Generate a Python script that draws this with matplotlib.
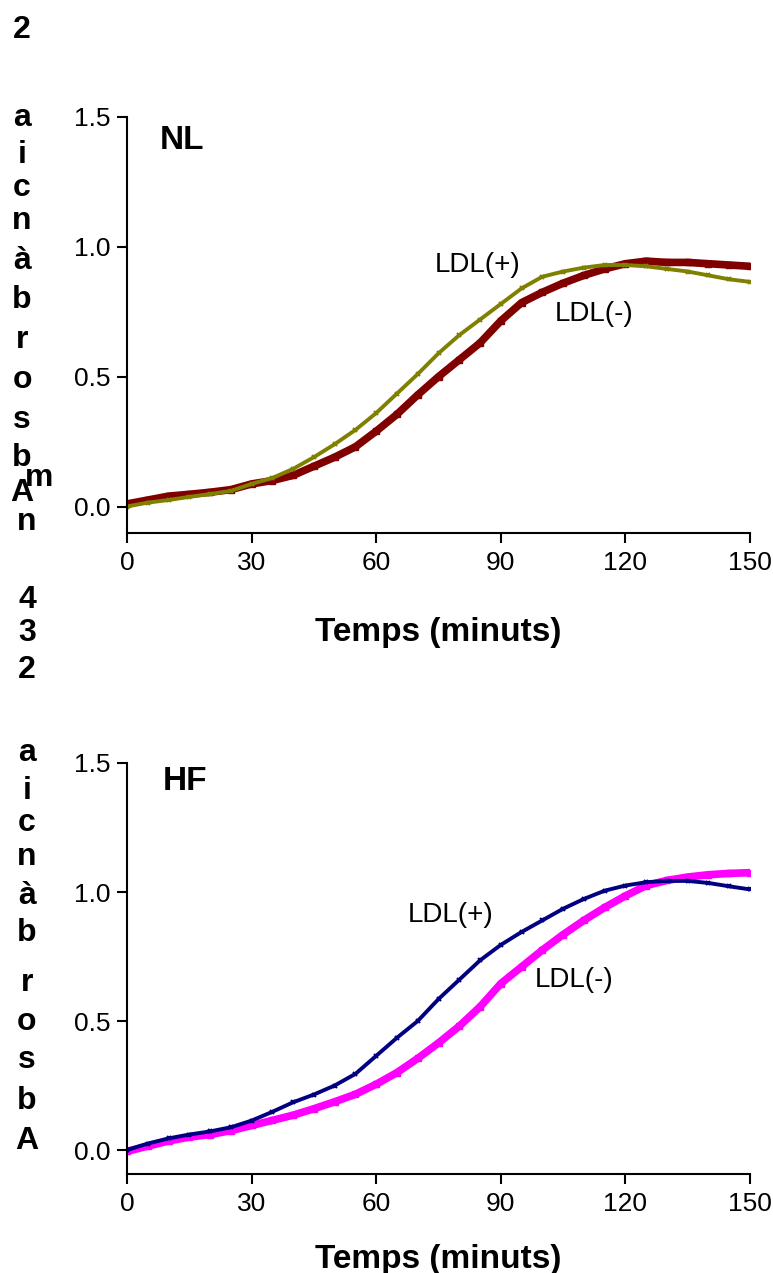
import matplotlib
matplotlib.use('Agg')
import matplotlib.pyplot as plt
import numpy as np

plt.rcParams['font.family'] = ['Liberation Sans', 'DejaVu Sans']

# ---- data, time in minutes ----
minutes = [0, 5, 10, 15, 20, 25, 30, 35, 40, 45, 50, 55, 60, 65, 70, 75,
           80, 85, 90, 95, 100, 105, 110, 115, 120, 125, 130, 135, 140, 145, 150]

nl_ldl_minus = [0.010, 0.025, 0.040, 0.047, 0.055, 0.065, 0.087, 0.100, 0.120, 0.155,
                0.190, 0.230, 0.290, 0.355, 0.430, 0.500, 0.565, 0.630, 0.715, 0.785,
                0.825, 0.860, 0.890, 0.915, 0.935, 0.945, 0.940, 0.940, 0.935, 0.930, 0.925]
nl_ldl_plus = [0.000, 0.015, 0.025, 0.037, 0.048, 0.060, 0.087, 0.110, 0.145, 0.190,
               0.240, 0.295, 0.360, 0.435, 0.510, 0.590, 0.660, 0.720, 0.780, 0.840,
               0.885, 0.905, 0.920, 0.930, 0.930, 0.925, 0.915, 0.905, 0.890, 0.875, 0.865]

hf_ldl_minus = [-0.005, 0.015, 0.035, 0.050, 0.060, 0.075, 0.095, 0.115, 0.135, 0.160,
                0.187, 0.216, 0.255, 0.300, 0.355, 0.415, 0.480, 0.555, 0.645, 0.710,
                0.775, 0.835, 0.890, 0.940, 0.985, 1.025, 1.045, 1.058, 1.067, 1.072, 1.075]
hf_ldl_plus = [0.000, 0.025, 0.045, 0.060, 0.072, 0.088, 0.114, 0.148, 0.185, 0.215,
               0.250, 0.295, 0.365, 0.435, 0.500, 0.585, 0.660, 0.735, 0.795, 0.845,
               0.890, 0.935, 0.973, 1.005, 1.025, 1.038, 1.043, 1.043, 1.035, 1.022, 1.010]

x_ticks = [0, 30, 60, 90, 120, 150]
y_ticks = [0.0, 0.5, 1.0, 1.5]

W, H = 773, 1273


def fig_rect(left, top, right, bottom):
    # pixel box -> figure fraction rect
    return [left / W, 1 - bottom / H, (right - left) / W, (bottom - top) / H]


def format_axes(ax, ylow):
    ax.set_xlim(0, 150)
    ax.set_ylim(ylow, 1.5)
    ax.set_xticks(x_ticks)
    ax.set_yticks(y_ticks)
    ax.set_yticklabels(['%.1f' % v for v in y_ticks])
    for spine in ['top', 'right']:
        ax.spines[spine].set_visible(False)
    for spine in ['left', 'bottom']:
        ax.spines[spine].set_linewidth(1.5)
    ax.spines['left'].set_bounds(ylow, 1.5)
    ax.tick_params(direction='out', length=7.2, width=1.5, labelsize=19, pad=5)
    ax.tick_params(axis='x', pad=6)


def plot_pair(ax, minus, plus, c_minus, c_plus):
    # LDL(-): thick band of square marks, LDL(+): thinner line of small crosses
    ax.plot(minutes, minus, color=c_minus, lw=5.5, marker='s', ms=4,
            solid_capstyle='butt', solid_joinstyle='round')
    ax.plot(minutes, plus, color=c_plus, lw=2.8, marker='x', ms=3.5, mew=1.5,
            solid_joinstyle='round')


fig = plt.figure(figsize=(W / 100, H / 100), dpi=100)

# ---- top panel: NL ----
ax1 = fig.add_axes(fig_rect(127, 117, 750, 533))
plot_pair(ax1, nl_ldl_minus, nl_ldl_plus, '#800000', '#808000')
format_axes(ax1, -0.102)
ax1.text(8, 1.41, 'NL', fontsize=24, fontweight='bold', va='center')
ax1.text(74, 0.93, 'LDL(+)', fontsize=20, va='center')
ax1.text(103, 0.74, 'LDL(-)', fontsize=20, va='center')
ax1.set_xlabel('Temps (minuts)', fontsize=24, fontweight='bold', labelpad=30)

# ---- bottom panel: HF ----
ax2 = fig.add_axes(fig_rect(127, 763, 750, 1174))
plot_pair(ax2, hf_ldl_minus, hf_ldl_plus, '#FF00FF', '#000080')
format_axes(ax2, -0.093)
ax2.text(8.7, 1.43, 'HF', fontsize=24, fontweight='bold', va='center')
ax2.text(67.7, 0.91, 'LDL(+)', fontsize=20, va='center')
ax2.text(98.2, 0.66, 'LDL(-)', fontsize=20, va='center')
ax2.set_xlabel('Temps (minuts)', fontsize=24, fontweight='bold', labelpad=20)

# ---- y labels: glyphs stacked upright, as rendered in the reference ----
col1_chars = '2aicnàbrosbA'
col1_base = [38, 126, 163, 196, 229, 269, 308, 348, 388, 428, 466, 501]
col2_chars = 'n432aicnàbrosbA'
col2_base = [530, 608, 641, 678, 761, 799, 831, 865, 904, 941, 991, 1030, 1068, 1109, 1149]

for ch, yb in zip(col1_chars, col1_base):
    fig.text(22 / W, 1 - yb / H, ch, fontsize=23, fontweight='bold',
             ha='center', va='baseline')
fig.text(39 / W, 1 - 486 / H, 'm', fontsize=23, fontweight='bold',
         ha='center', va='baseline')
for ch, yb in zip(col2_chars, col2_base):
    fig.text(27 / W, 1 - yb / H, ch, fontsize=23, fontweight='bold',
             ha='center', va='baseline')

fig.savefig('out.png', dpi=100)
